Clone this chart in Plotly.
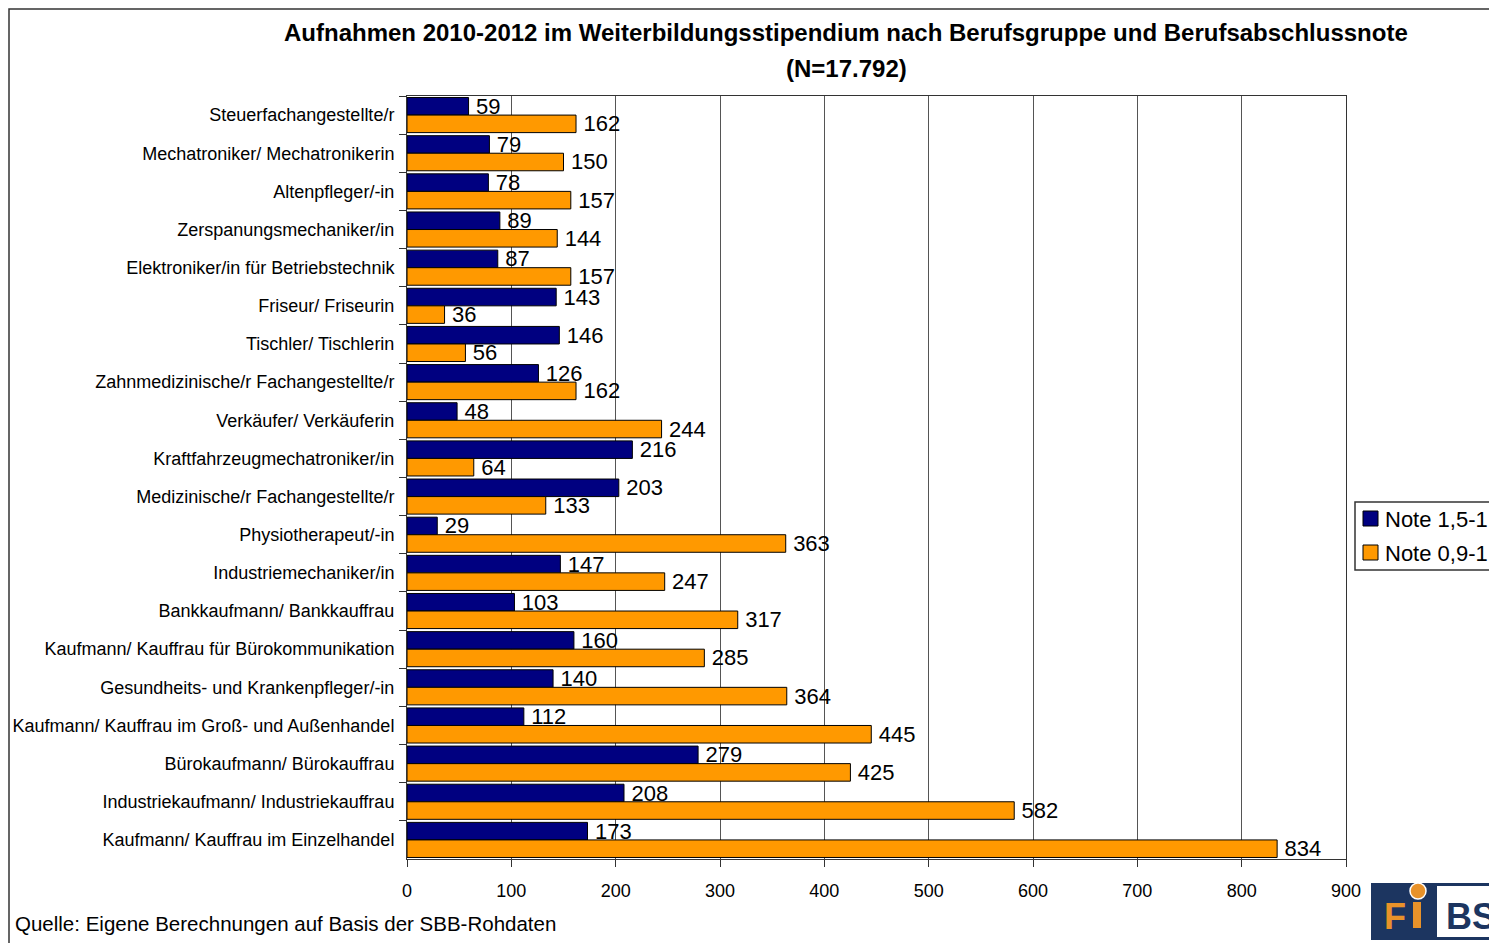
import plotly.graph_objects as go

categorias = [
    "Steuerfachangestellte/r",
    "Mechatroniker/ Mechatronikerin",
    "Altenpfleger/-in",
    "Zerspanungsmechaniker/in",
    "Elektroniker/in für Betriebstechnik",
    "Friseur/ Friseurin",
    "Tischler/ Tischlerin",
    "Zahnmedizinische/r Fachangestellte/r",
    "Verkäufer/ Verkäuferin",
    "Kraftfahrzeugmechatroniker/in",
    "Medizinische/r Fachangestellte/r",
    "Physiotherapeut/-in",
    "Industriemechaniker/in",
    "Bankkaufmann/ Bankkauffrau",
    "Kaufmann/ Kauffrau für Bürokommunikation",
    "Gesundheits- und Krankenpfleger/-in",
    "Kaufmann/ Kauffrau im Groß- und Außenhandel",
    "Bürokaufmann/ Bürokauffrau",
    "Industriekaufmann/ Industriekauffrau",
    "Kaufmann/ Kauffrau im Einzelhandel",
]
note_15_19 = [59, 79, 78, 89, 87, 143, 146, 126, 48, 216, 203, 29, 147, 103, 160, 140, 112, 279, 208, 173]
note_09_14 = [162, 150, 157, 144, 157, 36, 56, 162, 244, 64, 133, 363, 247, 317, 285, 364, 445, 425, 582, 834]
serien = ["Note 1,5-1,9", "Note 0,9-1,4"]
x_ticks = [0, 100, 200, 300, 400, 500, 600, 700, 800, 900]

FONT = "Liberation Sans, Arial, sans-serif"
NAVY = "#000080"
ORANGE = "#ff9900"

# page offset (body margin) and plot area in page pixels
OFF = 8
L, R, T, B = 407, 1346, 96, 859
W, H = 1497 - OFF, 943 - OFF


def px(x):
    return (x - L) / (R - L)


def py(y):
    return (B - y) / (B - T)


fig = go.Figure()
for name, werte, farbe in [(serien[0], note_15_19, NAVY), (serien[1], note_09_14, ORANGE)]:
    fig.add_trace(go.Bar(
        y=categorias, x=werte, orientation="h", name=name,
        marker=dict(color=farbe, line=dict(color="black", width=1)),
        texttemplate="\u2009%{x}", textposition="outside", cliponaxis=False, constraintext="none",
        textfont=dict(family=FONT, size=22, color="black"),
        showlegend=False,
    ))

shapes = [
    # outer frame
    dict(type="rect", xref="paper", yref="paper", x0=px(9), x1=px(1560), y0=py(990), y1=py(9),
         line=dict(color="#333", width=1.5), layer="below"),
    # legend box
    dict(type="rect", xref="paper", yref="paper", x0=px(1355), x1=px(1560), y0=py(570), y1=py(502),
         line=dict(color="#333", width=1.5), fillcolor="white"),
    # logo
    dict(type="rect", xref="paper", yref="paper", x0=px(1371), x1=px(1500), y0=py(940), y1=py(883),
         fillcolor="#1c3560", line=dict(width=0)),
    dict(type="rect", xref="paper", yref="paper", x0=px(1437), x1=px(1500), y0=py(937), y1=py(886),
         fillcolor="white", line=dict(width=0)),
    dict(type="rect", xref="paper", yref="paper", x0=px(1413), x1=px(1421), y0=py(928), y1=py(902),
         fillcolor="#e8922a", line=dict(width=0)),
    dict(type="circle", xref="paper", yref="paper", x0=px(1410), x1=px(1426), y0=py(899), y1=py(883),
         fillcolor="#e8922a", line=dict(color="white", width=1.5)),
]

annotations = [
    dict(text="<b>Aufnahmen 2010-2012 im Weiterbildungsstipendium nach Berufsgruppe und Berufsabschlussnote</b>",
         xref="paper", yref="paper", x=px(846), y=py(32), xanchor="center", yanchor="middle",
         showarrow=False, font=dict(family=FONT, size=24, color="black")),
    dict(text="<b>(N=17.792)</b>",
         xref="paper", yref="paper", x=px(846), y=py(68), xanchor="center", yanchor="middle",
         showarrow=False, font=dict(family=FONT, size=24, color="black")),
    dict(text="Quelle: Eigene Berechnungen auf Basis der SBB-Rohdaten",
         xref="paper", yref="paper", x=px(13), y=py(923), xanchor="left", yanchor="middle",
         showarrow=False, font=dict(family=FONT, size=20.5, color="black")),
    dict(text="<b>F</b>", xref="paper", yref="paper", x=px(1395), y=py(916), xanchor="center", yanchor="middle",
         showarrow=False, font=dict(family=FONT, size=36, color="#e8922a")),
    dict(text="<b>BS</b>", xref="paper", yref="paper", x=px(1444), y=py(916), xanchor="left", yanchor="middle",
         showarrow=False, font=dict(family=FONT, size=36, color="#1c3560")),
]

# legend entries drawn by hand so the swatch and text sit like the original
for i, (name, farbe) in enumerate([(serien[0], NAVY), (serien[1], ORANGE)]):
    yc = 519 + i * 34
    shapes.append(dict(type="rect", xref="paper", yref="paper", x0=px(1363), x1=px(1378),
                       y0=py(yc + 7), y1=py(yc - 8), fillcolor=farbe, line=dict(color="black", width=1)))
    annotations.append(dict(text=name, xref="paper", yref="paper", x=px(1383), y=py(yc),
                            xanchor="left", yanchor="middle", showarrow=False,
                            font=dict(family=FONT, size=22, color="black")))

fig.update_layout(
    width=W, height=H,
    margin=dict(l=L - OFF, r=W + OFF - R, t=T - OFF, b=H + OFF - B, autoexpand=False),
    paper_bgcolor="white", plot_bgcolor="white",
    barmode="group", bargap=0.08, bargroupgap=0,
    font=dict(family=FONT, size=18, color="black"),
    shapes=shapes,
    annotations=annotations,
)
fig.update_xaxes(
    range=[0, 900], tickvals=x_ticks, showgrid=True, gridcolor="#555", gridwidth=1,
    showline=True, linecolor="#333", linewidth=1, mirror=True,
    ticks="outside", ticklen=7, tickcolor="#333", ticklabelstandoff=8,
    tickfont=dict(family=FONT, size=18, color="black"), zeroline=False,
)
fig.update_yaxes(
    autorange="reversed", showline=True, linecolor="#333", linewidth=1, mirror=True,
    ticks="outside", ticklen=7, tickcolor="#333", tickson="boundaries",
    tickfont=dict(family=FONT, size=18, color="black"), ticklabelstandoff=8,
)

fig.write_html("out.html")
